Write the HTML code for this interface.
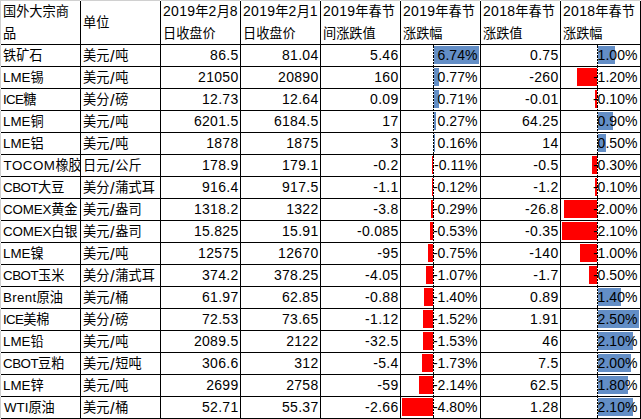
<!DOCTYPE html><html lang="zh-CN"><head><meta charset="utf-8"><title>国外大宗商品</title><style>
html,body{margin:0;padding:0;background:#fff;}
body{width:641px;height:419px;position:relative;overflow:hidden;
font-family:"Liberation Sans","Noto Sans CJK SC",sans-serif;font-size:13.2px;color:#000;}
.g{position:absolute;background:#000;}
.c{position:absolute;width:79px;height:21px;line-height:21px;white-space:nowrap;overflow:hidden;box-sizing:border-box;}
.l{padding-left:2px;text-align:left;}
.r{padding-right:1.5px;text-align:right;}
.h{position:absolute;width:79px;height:43px;line-height:22px;padding-left:2px;box-sizing:border-box;white-space:nowrap;overflow:hidden;}
.n{font-size:14px;letter-spacing:0.3px;}
.n,.a,.s,.p{line-height:0;}
.a{font-size:13.33px;}
.s{font-size:16.5px;margin:0 0.7px;position:relative;top:1.5px;}
.p{font-size:14px;letter-spacing:0;}
.q .n{letter-spacing:0.05px;}
.b{position:absolute;height:18px;}
.bp{background:#638ec6;}
.bn{background:#ff0000;}
.ax{position:absolute;width:1px;height:374px;top:45px;background:repeating-linear-gradient(to bottom,#000 0,#000 3px,transparent 3px,transparent 4px,#000 4px,#000 6px,transparent 6px,transparent 7px,#000 7px,#000 9px,transparent 9px,transparent 10px);}
.t{position:relative;}
</style></head><body>
<div style="position:absolute;left:0;top:0;width:641px;height:1px;background:#d0d0d0"></div>
<div style="position:absolute;left:0;top:0;width:1px;height:419px;background:#d0d0d0"></div>
<div style="position:absolute;left:80px;top:0;width:1px;height:1px;background:#f4f4f4"></div>
<div style="position:absolute;left:160px;top:0;width:1px;height:1px;background:#f4f4f4"></div>
<div style="position:absolute;left:240px;top:0;width:1px;height:1px;background:#f4f4f4"></div>
<div style="position:absolute;left:320px;top:0;width:1px;height:1px;background:#f4f4f4"></div>
<div style="position:absolute;left:400px;top:0;width:1px;height:1px;background:#f4f4f4"></div>
<div style="position:absolute;left:480px;top:0;width:1px;height:1px;background:#f4f4f4"></div>
<div style="position:absolute;left:560px;top:0;width:1px;height:1px;background:#f4f4f4"></div>
<div style="position:absolute;left:640px;top:0;width:1px;height:1px;background:#f4f4f4"></div>
<div style="position:absolute;left:0;top:44px;width:1px;height:1px;background:#f4f4f4"></div>
<div style="position:absolute;left:0;top:66px;width:1px;height:1px;background:#f4f4f4"></div>
<div style="position:absolute;left:0;top:88px;width:1px;height:1px;background:#f4f4f4"></div>
<div style="position:absolute;left:0;top:110px;width:1px;height:1px;background:#f4f4f4"></div>
<div style="position:absolute;left:0;top:132px;width:1px;height:1px;background:#f4f4f4"></div>
<div style="position:absolute;left:0;top:154px;width:1px;height:1px;background:#f4f4f4"></div>
<div style="position:absolute;left:0;top:176px;width:1px;height:1px;background:#f4f4f4"></div>
<div style="position:absolute;left:0;top:198px;width:1px;height:1px;background:#f4f4f4"></div>
<div style="position:absolute;left:0;top:220px;width:1px;height:1px;background:#f4f4f4"></div>
<div style="position:absolute;left:0;top:242px;width:1px;height:1px;background:#f4f4f4"></div>
<div style="position:absolute;left:0;top:264px;width:1px;height:1px;background:#f4f4f4"></div>
<div style="position:absolute;left:0;top:286px;width:1px;height:1px;background:#f4f4f4"></div>
<div style="position:absolute;left:0;top:308px;width:1px;height:1px;background:#f4f4f4"></div>
<div style="position:absolute;left:0;top:330px;width:1px;height:1px;background:#f4f4f4"></div>
<div style="position:absolute;left:0;top:352px;width:1px;height:1px;background:#f4f4f4"></div>
<div style="position:absolute;left:0;top:374px;width:1px;height:1px;background:#f4f4f4"></div>
<div style="position:absolute;left:0;top:396px;width:1px;height:1px;background:#f4f4f4"></div>
<div style="position:absolute;left:0;top:418px;width:1px;height:1px;background:#f4f4f4"></div>
<div class="b bp" style="left:434px;top:46px;width:45px"></div>
<div class="b bp" style="left:434px;top:68px;width:5px"></div>
<div class="b bp" style="left:434px;top:90px;width:5px"></div>
<div class="b bp" style="left:434px;top:112px;width:2px"></div>
<div class="b bp" style="left:434px;top:134px;width:1px"></div>
<div class="b bn" style="left:432px;top:156px;width:1px"></div>
<div class="b bn" style="left:432px;top:178px;width:1px"></div>
<div class="b bn" style="left:431px;top:200px;width:2px"></div>
<div class="b bn" style="left:430px;top:222px;width:3px"></div>
<div class="b bn" style="left:428px;top:244px;width:5px"></div>
<div class="b bn" style="left:426px;top:266px;width:7px"></div>
<div class="b bn" style="left:424px;top:288px;width:9px"></div>
<div class="b bn" style="left:423px;top:310px;width:10px"></div>
<div class="b bn" style="left:423px;top:332px;width:10px"></div>
<div class="b bn" style="left:422px;top:354px;width:11px"></div>
<div class="b bn" style="left:419px;top:376px;width:14px"></div>
<div class="b bn" style="left:402px;top:398px;width:31px"></div>
<div class="ax" style="left:433px"></div>
<div class="b bp" style="left:598px;top:46px;width:17px"></div>
<div class="b bn" style="left:577px;top:68px;width:20px"></div>
<div class="b bn" style="left:595px;top:90px;width:2px"></div>
<div class="b bp" style="left:598px;top:112px;width:15px"></div>
<div class="b bp" style="left:598px;top:134px;width:8px"></div>
<div class="b bn" style="left:592px;top:156px;width:5px"></div>
<div class="b bn" style="left:595px;top:178px;width:2px"></div>
<div class="b bn" style="left:564px;top:200px;width:33px"></div>
<div class="b bn" style="left:562px;top:222px;width:35px"></div>
<div class="b bn" style="left:580px;top:244px;width:17px"></div>
<div class="b bn" style="left:589px;top:266px;width:8px"></div>
<div class="b bp" style="left:598px;top:288px;width:23px"></div>
<div class="b bp" style="left:598px;top:310px;width:41px"></div>
<div class="b bp" style="left:598px;top:332px;width:35px"></div>
<div class="b bp" style="left:598px;top:354px;width:33px"></div>
<div class="b bp" style="left:598px;top:376px;width:30px"></div>
<div class="b bp" style="left:598px;top:398px;width:35px"></div>
<div class="ax" style="left:597px"></div>
<div class="g" style="left:80px;top:1px;width:1px;height:418px"></div>
<div class="g" style="left:160px;top:1px;width:1px;height:418px"></div>
<div class="g" style="left:240px;top:1px;width:1px;height:418px"></div>
<div class="g" style="left:320px;top:1px;width:1px;height:418px"></div>
<div class="g" style="left:400px;top:1px;width:1px;height:418px"></div>
<div class="g" style="left:480px;top:1px;width:1px;height:418px"></div>
<div class="g" style="left:560px;top:1px;width:1px;height:418px"></div>
<div class="g" style="left:640px;top:1px;width:1px;height:418px"></div>
<div class="g" style="left:1px;top:44px;width:640px;height:1px"></div>
<div class="g" style="left:1px;top:66px;width:640px;height:1px"></div>
<div class="g" style="left:1px;top:88px;width:640px;height:1px"></div>
<div class="g" style="left:1px;top:110px;width:640px;height:1px"></div>
<div class="g" style="left:1px;top:132px;width:640px;height:1px"></div>
<div class="g" style="left:1px;top:154px;width:640px;height:1px"></div>
<div class="g" style="left:1px;top:176px;width:640px;height:1px"></div>
<div class="g" style="left:1px;top:198px;width:640px;height:1px"></div>
<div class="g" style="left:1px;top:220px;width:640px;height:1px"></div>
<div class="g" style="left:1px;top:242px;width:640px;height:1px"></div>
<div class="g" style="left:1px;top:264px;width:640px;height:1px"></div>
<div class="g" style="left:1px;top:286px;width:640px;height:1px"></div>
<div class="g" style="left:1px;top:308px;width:640px;height:1px"></div>
<div class="g" style="left:1px;top:330px;width:640px;height:1px"></div>
<div class="g" style="left:1px;top:352px;width:640px;height:1px"></div>
<div class="g" style="left:1px;top:374px;width:640px;height:1px"></div>
<div class="g" style="left:1px;top:396px;width:640px;height:1px"></div>
<div class="g" style="left:1px;top:418px;width:640px;height:1px"></div>
<div class="h" style="left:1px;top:1px"><span class="t" style="top:0px">国外大宗商<br>品</span></div>
<div class="h" style="left:81px;top:1px;line-height:43px"><span class="t" style="top:0px">单位</span></div>
<div class="h" style="left:161px;top:1px"><span class="t" style="top:0px"><span class="n">2019</span>年<span class="n">2</span>月<span class="n">8</span><br>日收盘价</span></div>
<div class="h" style="left:241px;top:1px"><span class="t" style="top:0px"><span class="n">2019</span>年<span class="n">2</span>月<span class="n">1</span><br>日收盘价</span></div>
<div class="h" style="left:321px;top:1px"><span class="t" style="top:0px"><span class="n">2019</span>年春节<br>间涨跌值</span></div>
<div class="h" style="left:401px;top:1px"><span class="t" style="top:0px"><span class="n">2019</span>年春节<br>涨跌幅</span></div>
<div class="h" style="left:481px;top:1px"><span class="t" style="top:0px"><span class="n">2018</span>年春节<br>涨跌值</span></div>
<div class="h" style="left:561px;top:1px"><span class="t" style="top:0px"><span class="n">2018</span>年春节<br>涨跌幅</span></div>
<div class="c l" style="left:1px;top:45px"><span class="t" style="top:0px">铁矿石</span></div>
<div class="c l" style="left:81px;top:45px"><span class="t" style="top:0px">美元<span class="s">/</span>吨</span></div>
<div class="c r" style="left:161px;top:45px"><span class="t" style="top:0px"><span class="n">86.5</span></span></div>
<div class="c r" style="left:241px;top:45px"><span class="t" style="top:0px"><span class="n">81.04</span></span></div>
<div class="c r" style="left:321px;top:45px"><span class="t" style="top:0px"><span class="n">5.46</span></span></div>
<div class="c r q" style="left:401px;top:45px;padding-right:2.5px"><span class="t" style="top:0px"><span class="n">6.74</span><span class="p">%</span></span></div>
<div class="c r" style="left:481px;top:45px"><span class="t" style="top:0px"><span class="n">0.75</span></span></div>
<div class="c r q" style="left:561px;top:45px;padding-right:2.5px"><span class="t" style="top:0px"><span class="n">1.00</span><span class="p">%</span></span></div>
<div class="c l" style="left:1px;top:67px"><span class="t" style="top:0px"><span class="a">LME</span>锡</span></div>
<div class="c l" style="left:81px;top:67px"><span class="t" style="top:0px">美元<span class="s">/</span>吨</span></div>
<div class="c r" style="left:161px;top:67px"><span class="t" style="top:0px"><span class="n">21050</span></span></div>
<div class="c r" style="left:241px;top:67px"><span class="t" style="top:0px"><span class="n">20890</span></span></div>
<div class="c r" style="left:321px;top:67px"><span class="t" style="top:0px"><span class="n">160</span></span></div>
<div class="c r q" style="left:401px;top:67px;padding-right:2.5px"><span class="t" style="top:0px"><span class="n">0.77</span><span class="p">%</span></span></div>
<div class="c r" style="left:481px;top:67px"><span class="t" style="top:0px"><span class="n">-260</span></span></div>
<div class="c r q" style="left:561px;top:67px;padding-right:2.5px"><span class="t" style="top:0px"><span class="n">-1.20</span><span class="p">%</span></span></div>
<div class="c l" style="left:1px;top:89px"><span class="t" style="top:0px"><span class="a" style="letter-spacing:-0.7px;">ICE</span>糖</span></div>
<div class="c l" style="left:81px;top:89px"><span class="t" style="top:0px">美分<span class="s">/</span>磅</span></div>
<div class="c r" style="left:161px;top:89px"><span class="t" style="top:0px"><span class="n">12.73</span></span></div>
<div class="c r" style="left:241px;top:89px"><span class="t" style="top:0px"><span class="n">12.64</span></span></div>
<div class="c r" style="left:321px;top:89px"><span class="t" style="top:0px"><span class="n">0.09</span></span></div>
<div class="c r q" style="left:401px;top:89px;padding-right:2.5px"><span class="t" style="top:0px"><span class="n">0.71</span><span class="p">%</span></span></div>
<div class="c r" style="left:481px;top:89px"><span class="t" style="top:0px"><span class="n">-0.01</span></span></div>
<div class="c r q" style="left:561px;top:89px;padding-right:2.5px"><span class="t" style="top:0px"><span class="n">-0.10</span><span class="p">%</span></span></div>
<div class="c l" style="left:1px;top:111px"><span class="t" style="top:0px"><span class="a">LME</span>铜</span></div>
<div class="c l" style="left:81px;top:111px"><span class="t" style="top:0px">美元<span class="s">/</span>吨</span></div>
<div class="c r" style="left:161px;top:111px"><span class="t" style="top:0px"><span class="n">6201.5</span></span></div>
<div class="c r" style="left:241px;top:111px"><span class="t" style="top:0px"><span class="n">6184.5</span></span></div>
<div class="c r" style="left:321px;top:111px"><span class="t" style="top:0px"><span class="n">17</span></span></div>
<div class="c r q" style="left:401px;top:111px;padding-right:2.5px"><span class="t" style="top:0px"><span class="n">0.27</span><span class="p">%</span></span></div>
<div class="c r" style="left:481px;top:111px"><span class="t" style="top:0px"><span class="n">64.25</span></span></div>
<div class="c r q" style="left:561px;top:111px;padding-right:2.5px"><span class="t" style="top:0px"><span class="n">0.90</span><span class="p">%</span></span></div>
<div class="c l" style="left:1px;top:133px"><span class="t" style="top:0px"><span class="a">LME</span>铝</span></div>
<div class="c l" style="left:81px;top:133px"><span class="t" style="top:0px">美元<span class="s">/</span>吨</span></div>
<div class="c r" style="left:161px;top:133px"><span class="t" style="top:0px"><span class="n">1878</span></span></div>
<div class="c r" style="left:241px;top:133px"><span class="t" style="top:0px"><span class="n">1875</span></span></div>
<div class="c r" style="left:321px;top:133px"><span class="t" style="top:0px"><span class="n">3</span></span></div>
<div class="c r q" style="left:401px;top:133px;padding-right:2.5px"><span class="t" style="top:0px"><span class="n">0.16</span><span class="p">%</span></span></div>
<div class="c r" style="left:481px;top:133px"><span class="t" style="top:0px"><span class="n">14</span></span></div>
<div class="c r q" style="left:561px;top:133px;padding-right:2.5px"><span class="t" style="top:0px"><span class="n">0.50</span><span class="p">%</span></span></div>
<div class="c l" style="left:1px;top:155px"><span class="t" style="top:0px"><span class="a" style="letter-spacing:0.5px;margin-left:0.5px;">TOCOM</span>橡胶</span></div>
<div class="c l" style="left:81px;top:155px"><span class="t" style="top:0px">日元<span class="s">/</span>公斤</span></div>
<div class="c r" style="left:161px;top:155px"><span class="t" style="top:0px"><span class="n">178.9</span></span></div>
<div class="c r" style="left:241px;top:155px"><span class="t" style="top:0px"><span class="n">179.1</span></span></div>
<div class="c r" style="left:321px;top:155px"><span class="t" style="top:0px"><span class="n">-0.2</span></span></div>
<div class="c r q" style="left:401px;top:155px;padding-right:2.5px"><span class="t" style="top:0px"><span class="n">-0.11</span><span class="p">%</span></span></div>
<div class="c r" style="left:481px;top:155px"><span class="t" style="top:0px"><span class="n">-0.5</span></span></div>
<div class="c r q" style="left:561px;top:155px;padding-right:2.5px"><span class="t" style="top:0px"><span class="n">-0.30</span><span class="p">%</span></span></div>
<div class="c l" style="left:1px;top:177px"><span class="t" style="top:0px"><span class="a" style="letter-spacing:-0.5px;">CBOT</span>大豆</span></div>
<div class="c l" style="left:81px;top:177px"><span class="t" style="top:0px">美分<span class="s">/</span>蒲式耳</span></div>
<div class="c r" style="left:161px;top:177px"><span class="t" style="top:0px"><span class="n">916.4</span></span></div>
<div class="c r" style="left:241px;top:177px"><span class="t" style="top:0px"><span class="n">917.5</span></span></div>
<div class="c r" style="left:321px;top:177px"><span class="t" style="top:0px"><span class="n">-1.1</span></span></div>
<div class="c r q" style="left:401px;top:177px;padding-right:2.5px"><span class="t" style="top:0px"><span class="n">-0.12</span><span class="p">%</span></span></div>
<div class="c r" style="left:481px;top:177px"><span class="t" style="top:0px"><span class="n">-1.2</span></span></div>
<div class="c r q" style="left:561px;top:177px;padding-right:2.5px"><span class="t" style="top:0px"><span class="n">-0.10</span><span class="p">%</span></span></div>
<div class="c l" style="left:1px;top:199px"><span class="t" style="top:0px"><span class="a" style="letter-spacing:-0.15px;">COMEX</span>黄金</span></div>
<div class="c l" style="left:81px;top:199px"><span class="t" style="top:0px">美元<span class="s">/</span>盎司</span></div>
<div class="c r" style="left:161px;top:199px"><span class="t" style="top:0px"><span class="n">1318.2</span></span></div>
<div class="c r" style="left:241px;top:199px"><span class="t" style="top:0px"><span class="n">1322</span></span></div>
<div class="c r" style="left:321px;top:199px"><span class="t" style="top:0px"><span class="n">-3.8</span></span></div>
<div class="c r q" style="left:401px;top:199px;padding-right:2.5px"><span class="t" style="top:0px"><span class="n">-0.29</span><span class="p">%</span></span></div>
<div class="c r" style="left:481px;top:199px"><span class="t" style="top:0px"><span class="n">-26.8</span></span></div>
<div class="c r q" style="left:561px;top:199px;padding-right:2.5px"><span class="t" style="top:0px"><span class="n">-2.00</span><span class="p">%</span></span></div>
<div class="c l" style="left:1px;top:221px"><span class="t" style="top:0px"><span class="a" style="letter-spacing:-0.15px;">COMEX</span>白银</span></div>
<div class="c l" style="left:81px;top:221px"><span class="t" style="top:0px">美元<span class="s">/</span>盎司</span></div>
<div class="c r" style="left:161px;top:221px"><span class="t" style="top:0px"><span class="n">15.825</span></span></div>
<div class="c r" style="left:241px;top:221px"><span class="t" style="top:0px"><span class="n">15.91</span></span></div>
<div class="c r" style="left:321px;top:221px"><span class="t" style="top:0px"><span class="n">-0.085</span></span></div>
<div class="c r q" style="left:401px;top:221px;padding-right:2.5px"><span class="t" style="top:0px"><span class="n">-0.53</span><span class="p">%</span></span></div>
<div class="c r" style="left:481px;top:221px"><span class="t" style="top:0px"><span class="n">-0.35</span></span></div>
<div class="c r q" style="left:561px;top:221px;padding-right:2.5px"><span class="t" style="top:0px"><span class="n">-2.10</span><span class="p">%</span></span></div>
<div class="c l" style="left:1px;top:243px"><span class="t" style="top:0px"><span class="a">LME</span>镍</span></div>
<div class="c l" style="left:81px;top:243px"><span class="t" style="top:0px">美元<span class="s">/</span>吨</span></div>
<div class="c r" style="left:161px;top:243px"><span class="t" style="top:0px"><span class="n">12575</span></span></div>
<div class="c r" style="left:241px;top:243px"><span class="t" style="top:0px"><span class="n">12670</span></span></div>
<div class="c r" style="left:321px;top:243px"><span class="t" style="top:0px"><span class="n">-95</span></span></div>
<div class="c r q" style="left:401px;top:243px;padding-right:2.5px"><span class="t" style="top:0px"><span class="n">-0.75</span><span class="p">%</span></span></div>
<div class="c r" style="left:481px;top:243px"><span class="t" style="top:0px"><span class="n">-140</span></span></div>
<div class="c r q" style="left:561px;top:243px;padding-right:2.5px"><span class="t" style="top:0px"><span class="n">-1.00</span><span class="p">%</span></span></div>
<div class="c l" style="left:1px;top:265px"><span class="t" style="top:0px"><span class="a" style="letter-spacing:-0.5px;">CBOT</span>玉米</span></div>
<div class="c l" style="left:81px;top:265px"><span class="t" style="top:0px">美分<span class="s">/</span>蒲式耳</span></div>
<div class="c r" style="left:161px;top:265px"><span class="t" style="top:0px"><span class="n">374.2</span></span></div>
<div class="c r" style="left:241px;top:265px"><span class="t" style="top:0px"><span class="n">378.25</span></span></div>
<div class="c r" style="left:321px;top:265px"><span class="t" style="top:0px"><span class="n">-4.05</span></span></div>
<div class="c r q" style="left:401px;top:265px;padding-right:2.5px"><span class="t" style="top:0px"><span class="n">-1.07</span><span class="p">%</span></span></div>
<div class="c r" style="left:481px;top:265px"><span class="t" style="top:0px"><span class="n">-1.7</span></span></div>
<div class="c r q" style="left:561px;top:265px;padding-right:2.5px"><span class="t" style="top:0px"><span class="n">-0.50</span><span class="p">%</span></span></div>
<div class="c l" style="left:1px;top:287px"><span class="t" style="top:0px"><span class="a" style="letter-spacing:0.35px;">Brent</span>原油</span></div>
<div class="c l" style="left:81px;top:287px"><span class="t" style="top:0px">美元<span class="s">/</span>桶</span></div>
<div class="c r" style="left:161px;top:287px"><span class="t" style="top:0px"><span class="n">61.97</span></span></div>
<div class="c r" style="left:241px;top:287px"><span class="t" style="top:0px"><span class="n">62.85</span></span></div>
<div class="c r" style="left:321px;top:287px"><span class="t" style="top:0px"><span class="n">-0.88</span></span></div>
<div class="c r q" style="left:401px;top:287px;padding-right:2.5px"><span class="t" style="top:0px"><span class="n">-1.40</span><span class="p">%</span></span></div>
<div class="c r" style="left:481px;top:287px"><span class="t" style="top:0px"><span class="n">0.89</span></span></div>
<div class="c r q" style="left:561px;top:287px;padding-right:2.5px"><span class="t" style="top:0px"><span class="n">1.40</span><span class="p">%</span></span></div>
<div class="c l" style="left:1px;top:309px"><span class="t" style="top:0px"><span class="a" style="letter-spacing:-0.7px;">ICE</span>美棉</span></div>
<div class="c l" style="left:81px;top:309px"><span class="t" style="top:0px">美分<span class="s">/</span>磅</span></div>
<div class="c r" style="left:161px;top:309px"><span class="t" style="top:0px"><span class="n">72.53</span></span></div>
<div class="c r" style="left:241px;top:309px"><span class="t" style="top:0px"><span class="n">73.65</span></span></div>
<div class="c r" style="left:321px;top:309px"><span class="t" style="top:0px"><span class="n">-1.12</span></span></div>
<div class="c r q" style="left:401px;top:309px;padding-right:2.5px"><span class="t" style="top:0px"><span class="n">-1.52</span><span class="p">%</span></span></div>
<div class="c r" style="left:481px;top:309px"><span class="t" style="top:0px"><span class="n">1.91</span></span></div>
<div class="c r q" style="left:561px;top:309px;padding-right:2.5px"><span class="t" style="top:0px"><span class="n">2.50</span><span class="p">%</span></span></div>
<div class="c l" style="left:1px;top:331px"><span class="t" style="top:0px"><span class="a">LME</span>铅</span></div>
<div class="c l" style="left:81px;top:331px"><span class="t" style="top:0px">美元<span class="s">/</span>吨</span></div>
<div class="c r" style="left:161px;top:331px"><span class="t" style="top:0px"><span class="n">2089.5</span></span></div>
<div class="c r" style="left:241px;top:331px"><span class="t" style="top:0px"><span class="n">2122</span></span></div>
<div class="c r" style="left:321px;top:331px"><span class="t" style="top:0px"><span class="n">-32.5</span></span></div>
<div class="c r q" style="left:401px;top:331px;padding-right:2.5px"><span class="t" style="top:0px"><span class="n">-1.53</span><span class="p">%</span></span></div>
<div class="c r" style="left:481px;top:331px"><span class="t" style="top:0px"><span class="n">46</span></span></div>
<div class="c r q" style="left:561px;top:331px;padding-right:2.5px"><span class="t" style="top:0px"><span class="n">2.10</span><span class="p">%</span></span></div>
<div class="c l" style="left:1px;top:353px"><span class="t" style="top:0px"><span class="a" style="letter-spacing:-0.5px;">CBOT</span>豆粕</span></div>
<div class="c l" style="left:81px;top:353px"><span class="t" style="top:0px">美元<span class="s">/</span>短吨</span></div>
<div class="c r" style="left:161px;top:353px"><span class="t" style="top:0px"><span class="n">306.6</span></span></div>
<div class="c r" style="left:241px;top:353px"><span class="t" style="top:0px"><span class="n">312</span></span></div>
<div class="c r" style="left:321px;top:353px"><span class="t" style="top:0px"><span class="n">-5.4</span></span></div>
<div class="c r q" style="left:401px;top:353px;padding-right:2.5px"><span class="t" style="top:0px"><span class="n">-1.73</span><span class="p">%</span></span></div>
<div class="c r" style="left:481px;top:353px"><span class="t" style="top:0px"><span class="n">7.5</span></span></div>
<div class="c r q" style="left:561px;top:353px;padding-right:2.5px"><span class="t" style="top:0px"><span class="n">2.00</span><span class="p">%</span></span></div>
<div class="c l" style="left:1px;top:375px"><span class="t" style="top:0px"><span class="a">LME</span>锌</span></div>
<div class="c l" style="left:81px;top:375px"><span class="t" style="top:0px">美元<span class="s">/</span>吨</span></div>
<div class="c r" style="left:161px;top:375px"><span class="t" style="top:0px"><span class="n">2699</span></span></div>
<div class="c r" style="left:241px;top:375px"><span class="t" style="top:0px"><span class="n">2758</span></span></div>
<div class="c r" style="left:321px;top:375px"><span class="t" style="top:0px"><span class="n">-59</span></span></div>
<div class="c r q" style="left:401px;top:375px;padding-right:2.5px"><span class="t" style="top:0px"><span class="n">-2.14</span><span class="p">%</span></span></div>
<div class="c r" style="left:481px;top:375px"><span class="t" style="top:0px"><span class="n">62.5</span></span></div>
<div class="c r q" style="left:561px;top:375px;padding-right:2.5px"><span class="t" style="top:0px"><span class="n">1.80</span><span class="p">%</span></span></div>
<div class="c l" style="left:1px;top:397px"><span class="t" style="top:0px"><span class="a" style="margin-left:1px;">WTI</span>原油</span></div>
<div class="c l" style="left:81px;top:397px"><span class="t" style="top:0px">美元<span class="s">/</span>桶</span></div>
<div class="c r" style="left:161px;top:397px"><span class="t" style="top:0px"><span class="n">52.71</span></span></div>
<div class="c r" style="left:241px;top:397px"><span class="t" style="top:0px"><span class="n">55.37</span></span></div>
<div class="c r" style="left:321px;top:397px"><span class="t" style="top:0px"><span class="n">-2.66</span></span></div>
<div class="c r q" style="left:401px;top:397px;padding-right:2.5px"><span class="t" style="top:0px"><span class="n">-4.80</span><span class="p">%</span></span></div>
<div class="c r" style="left:481px;top:397px"><span class="t" style="top:0px"><span class="n">1.28</span></span></div>
<div class="c r q" style="left:561px;top:397px;padding-right:2.5px"><span class="t" style="top:0px"><span class="n">2.10</span><span class="p">%</span></span></div>
</body></html>
